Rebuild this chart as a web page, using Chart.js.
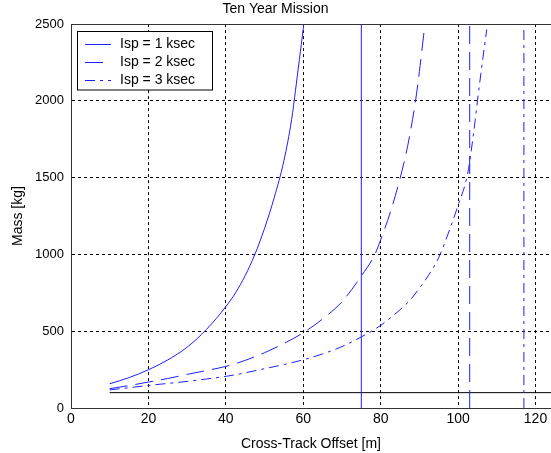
<!DOCTYPE html>
<html>
<head>
<meta charset="utf-8">
<script src="https://cdn.jsdelivr.net/npm/chart.js@4.4.1/dist/chart.umd.min.js"></script>
<style>
  html, body { margin: 0; background: #fff; }
  #wrap { width: 551px; height: 453px; }
</style>
</head>
<body>
<div id="wrap"><canvas id="chart"></canvas></div>
<script>
// --- data ---
const chartTitle = "Ten Year Mission";
const xAxisTitle = "Cross-Track Offset [m]";
const yAxisTitle = "Mass [kg]";
const seriesLabels = ["Isp = 1 ksec", "Isp = 2 ksec", "Isp = 3 ksec"];

const offsetIsp1 = [10, 15, 20, 25, 30, 35, 40, 42.5, 45, 47.5, 50, 52.5, 55, 57, 58, 59, 60, 60.5];
const massIsp1   = [158, 198, 249, 313, 396, 512, 660, 750, 862, 1000, 1170, 1370, 1610, 1880, 2070, 2270, 2470, 2580];

const offsetIsp2 = [10, 15, 20, 25, 30, 35, 40, 45, 50, 55, 60, 65, 70, 75, 78.5, 80, 82.5, 85, 87, 89, 90, 91.2];
const massIsp2   = [126, 146, 169, 192, 219, 244, 271, 310, 360, 420, 490, 580, 692, 860, 1000, 1095, 1275, 1495, 1710, 2000, 2190, 2450];

const offsetIsp3 = [10, 15, 20, 25, 30, 35, 40, 45, 50, 55, 60, 65, 70, 75, 80, 85, 87.5, 90, 92.5, 95, 97.5, 100, 102.5, 104, 105, 106, 107.4];
const massIsp3   = [118, 132, 147, 160, 173, 189, 206, 229, 256, 283, 314, 352, 400, 463, 538, 640, 700, 780, 870, 980, 1140, 1320, 1530, 1790, 2000, 2200, 2465];

const limitOffsets = [75, 103, 117];   // vertical lines, one per Isp
const floorMass = 100;                  // horizontal black line
const floorOffsets = [10, 130];

const xMin = 0, xMax = 124, xStep = 20;
const yMin = 0, yMax = 2500, yStep = 500;

// --- styles ---
const blue = "rgb(30,30,255)";
const dashes = [[], [18, 8], [10, 5, 3, 5]];
const fontFamily = "'Liberation Sans', Arial, sans-serif";

const zip = (xs, ys) => xs.map((x, i) => ({ x: x, y: ys[i] }));
const curves = [zip(offsetIsp1, massIsp1), zip(offsetIsp2, massIsp2), zip(offsetIsp3, massIsp3)];

const datasets = [];
curves.forEach((pts, i) => {
  datasets.push({
    label: seriesLabels[i],
    data: pts,
    borderColor: blue,
    borderWidth: 1,
    borderDash: dashes[i],
    pointRadius: 0,
    showLine: true,
    cubicInterpolationMode: "monotone"
  });
});
limitOffsets.forEach((x, i) => {
  datasets.push({
    label: "",
    data: [{ x: x, y: yMin }, { x: x, y: yMax }],
    borderColor: blue,
    borderWidth: 1,
    borderDash: dashes[i],
    pointRadius: 0,
    showLine: true
  });
});
datasets.push({
  label: "",
  data: floorOffsets.map(x => ({ x: x, y: floorMass })),
  borderColor: "#000",
  borderWidth: 1,
  pointRadius: 0,
  showLine: true
});

// top edge of the axes box, solid like the other sides
const boxTop = {
  id: "boxTop",
  afterDraw(chart) {
    const { ctx, chartArea: a } = chart;
    ctx.save();
    ctx.strokeStyle = "#333";
    ctx.lineWidth = 1;
    ctx.beginPath();
    ctx.moveTo(a.left, Math.round(a.top) + 0.5);
    ctx.lineTo(a.right, Math.round(a.top) + 0.5);
    ctx.stroke();
    ctx.restore();
  }
};

// MATLAB style legend inside the top-left corner
const insideLegend = {
  id: "insideLegend",
  afterDraw(chart) {
    const ctx = chart.ctx;
    const items = chart.data.datasets.slice(0, 3);
    const left = 77.5, top = 31.5, w = 135, h = 58.5;
    ctx.save();
    ctx.fillStyle = "#fff";
    ctx.fillRect(left, top, w, h);
    ctx.strokeStyle = "#000";
    ctx.lineWidth = 1;
    ctx.strokeRect(left, top, w, h);
    ctx.font = "14px " + fontFamily;
    ctx.textBaseline = "middle";
    items.forEach((ds, i) => {
      const y = Math.round(top + 12 + i * 18) + 0.5;
      ctx.strokeStyle = ds.borderColor;
      ctx.setLineDash(ds.borderDash);
      ctx.beginPath();
      ctx.moveTo(85, y);
      ctx.lineTo(111, y);
      ctx.stroke();
      ctx.setLineDash([]);
      ctx.fillStyle = "#000";
      ctx.fillText(ds.label, 120, y);
    });
    ctx.restore();
  }
};

new Chart(document.getElementById("chart"), {
  type: "scatter",
  data: { datasets: datasets },
  plugins: [boxTop, insideLegend],
  options: {
    responsive: true,
    maintainAspectRatio: false,
    animation: false,
    layout: { padding: 0 },
    plugins: {
      legend: { display: false },
      tooltip: { enabled: false },
      title: {
        display: true,
        text: chartTitle,
        color: "#000",
        font: { family: fontFamily, size: 14, weight: "normal" },
        padding: { top: 1, bottom: 6.3 }
      }
    },
    scales: {
      x: {
        type: "linear",
        min: xMin,
        max: xMax,
        afterFit(scale) { scale.height = 45; },
        ticks: {
          stepSize: xStep,
          includeBounds: false,
          color: "#000",
          padding: 3,
          maxRotation: 0,
          font: { family: fontFamily, size: 14 },
          callback: v => String(v)
        },
        grid: { color: "#000", lineWidth: 1, drawTicks: false },
        border: { display: true, color: "#333", width: 1, dash: [3, 3] },
        title: {
          display: true,
          text: xAxisTitle,
          color: "#000",
          font: { family: fontFamily, size: 14 },
          padding: { top: 2, bottom: 0 }
        }
      },
      y: {
        type: "linear",
        min: yMin,
        max: yMax,
        afterFit(scale) { scale.width = 71; },
        ticks: {
          stepSize: yStep,
          color: "#000",
          padding: 7,
          font: { family: fontFamily, size: 13 },
          callback: v => String(v)
        },
        grid: { color: "#000", lineWidth: 1, drawTicks: false },
        border: { display: true, color: "#333", width: 1, dash: [3, 3] },
        title: {
          display: true,
          text: yAxisTitle,
          color: "#000",
          font: { family: fontFamily, size: 14 },
          padding: { top: 10, bottom: 0 }
        }
      }
    }
  }
});
</script>
</body>
</html>
